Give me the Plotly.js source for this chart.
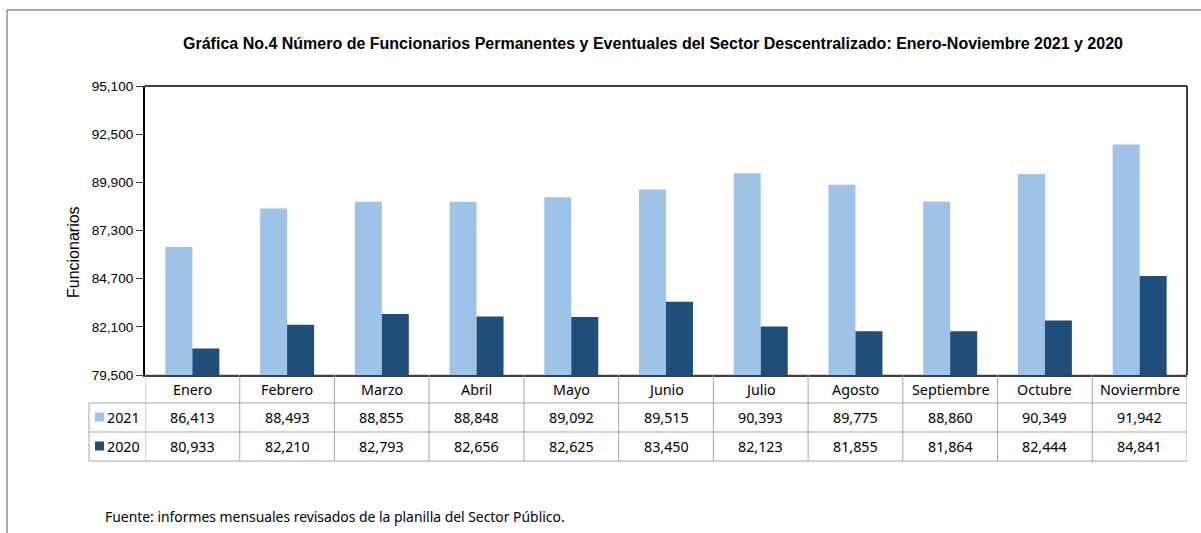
<!DOCTYPE html>
<html>
<head>
<meta charset="utf-8">
<script src="https://cdn.plot.ly/plotly-3.0.1.min.js"></script>
<style>html,body{margin:0;padding:0;background:#fff;}#chart{width:1201px;height:533px;}</style>
</head>
<body>
<div id="chart"></div>
<script>
const months = ["Enero","Febrero","Marzo","Abril","Mayo","Junio","Julio","Agosto","Septiembre","Octubre","Noviermbre"];
const seriesNames = ["2021","2020"];
const values2021 = [86413,88493,88855,88848,89092,89515,90393,89775,88860,90349,91942];
const values2020 = [80933,82210,82793,82656,82625,83450,82123,81855,81864,82444,84841];
const yTicks = [79500,82100,84700,87300,89900,92500,95100];
const titleText = "Gráfica No.4 Número de Funcionarios Permanentes y Eventuales del Sector Descentralizado: Enero-Noviembre 2021 y 2020";
const yTitle = "Funcionarios";
const sourceText = "Fuente: informes mensuales revisados de la planilla del Sector Público.";

const colors = ["#9DC3E6","#1F4E79"];
const W = 1201, H = 533;
const mL = 145, mR = W - 1187, mT = 86, mB = H - 375;
const plotW = W - mL - mR, plotH = H - mT - mB;
const px = p => (p - mL) / plotW;           // pixel x -> paper
const py = p => (H - mB - p) / plotH;       // pixel y -> paper

const fmt = v => v.toLocaleString("en-US");

const traces = [
  {type:"bar", x: months.map((m,i)=>i), y: values2021, name: seriesNames[0], marker:{color:colors[0]}, hoverinfo:"y"},
  {type:"bar", x: months.map((m,i)=>i), y: values2020, name: seriesNames[1], marker:{color:colors[1]}, hoverinfo:"y"}
];

const rowY = [375, 403, 432, 461];
const tableFont = {family:"'Noto Sans', sans-serif", size:14.3, color:"#000"};
const arial = "'Liberation Sans', Arial, sans-serif";
const shapes = [];
const annotations = [];
const lineStyle = {color:"#A6A6A6", width:1};

// outer frame
shapes.push({type:"line", xref:"paper", yref:"paper", x0:px(7), x1:px(7), y0:py(10), y1:py(540), line:{color:"#595959", width:1}});
shapes.push({type:"line", xref:"paper", yref:"paper", x0:px(7), x1:px(1210), y0:py(10), y1:py(10), line:{color:"#595959", width:1}});

// table horizontal lines
shapes.push({type:"line", xref:"paper", yref:"paper", x0:0, x1:1, y0:py(rowY[0]), y1:py(rowY[0]), line:lineStyle, layer:"below"});
for (let r = 1; r < rowY.length; r++) {
  shapes.push({type:"line", xref:"paper", yref:"paper", x0:px(89), x1:1, y0:py(rowY[r]), y1:py(rowY[r]), line:lineStyle});
}
// table vertical lines
months.forEach((m,i) => {
  shapes.push({type:"line", xref:"x", yref:"paper", x0:i-0.5, x1:i-0.5, y0:py(rowY[0]), y1:py(rowY[3]), line:lineStyle});
});
shapes.push({type:"line", xref:"x", yref:"paper", x0:months.length-0.5, x1:months.length-0.5, y0:py(rowY[0]), y1:py(rowY[3]), line:lineStyle});
shapes.push({type:"line", xref:"paper", yref:"paper", x0:px(89), x1:px(89), y0:py(rowY[1]), y1:py(rowY[3]), line:lineStyle});

// table text
months.forEach((m,i) => {
  annotations.push({xref:"x", yref:"paper", x:i, y:py((rowY[0]+rowY[1])/2), text:m, showarrow:false, font:tableFont, xanchor:"center", yanchor:"middle"});
  annotations.push({xref:"x", yref:"paper", x:i, y:py((rowY[1]+rowY[2])/2), text:fmt(values2021[i]), showarrow:false, font:tableFont, xanchor:"center", yanchor:"middle"});
  annotations.push({xref:"x", yref:"paper", x:i, y:py((rowY[2]+rowY[3])/2), text:fmt(values2020[i]), showarrow:false, font:tableFont, xanchor:"center", yanchor:"middle"});
});
// legend keys in table
[0,1].forEach(k => {
  const cy = (rowY[k+1]+rowY[k+2])/2;
  shapes.push({type:"rect", xref:"paper", yref:"paper", x0:px(95), x1:px(104), y0:py(cy-5), y1:py(cy+4), fillcolor:colors[k], line:{width:0}});
  annotations.push({xref:"paper", yref:"paper", x:px(105), y:py(cy), text:seriesNames[k], showarrow:false, font:tableFont, xanchor:"left", yanchor:"middle"});
});

// source
annotations.push({xref:"paper", yref:"paper", x:px(103), y:py(516), text:sourceText, showarrow:false, font:{family:"'Noto Sans', sans-serif", size:13.9, color:"#000"}, xanchor:"left", yanchor:"middle"});

// y title
annotations.push({xref:"paper", yref:"paper", x:px(74), y:py(252), text:yTitle, textangle:-90, showarrow:false, font:{family:arial, size:16, color:"#000"}, xanchor:"center", yanchor:"middle"});

// plot frame top/right
shapes.push({type:"line", xref:"paper", yref:"paper", x0:0, x1:1, y0:1, y1:1, line:{color:"#000", width:1.5}});
shapes.push({type:"line", xref:"paper", yref:"paper", x0:1, x1:1, y0:0, y1:1, line:{color:"#000", width:1.5}});

const layout = {
  width: W, height: H,
  margin: {l:mL, r:mR, t:mT, b:mB, pad:0},
  paper_bgcolor:"#fff", plot_bgcolor:"#fff",
  showlegend:false,
  barmode:"group", bargap:0.43, bargroupgap:0,
  title:{text:"<b>"+titleText+"</b>", xref:"container", x:653/W, xanchor:"center", y:1-43/H, yanchor:"middle",
         font:{family:arial, size:16, color:"#000"}},
  xaxis:{range:[-0.5, months.length-0.5], showticklabels:false, ticks:"", showgrid:false, zeroline:false,
         showline:true, linecolor:"#404040", linewidth:2, fixedrange:true},
  yaxis:{range:[yTicks[0], yTicks[yTicks.length-1]], tickvals:yTicks, ticktext:yTicks.map(fmt),
         ticks:"outside", ticklen:7, tickcolor:"#404040", tickwidth:1, showgrid:false, zeroline:false,
         showline:true, linecolor:"#000", linewidth:2,
         tickfont:{family:arial, size:13.6, color:"#000"}},
  shapes: shapes,
  annotations: annotations
};

Plotly.newPlot("chart", traces, layout, {displayModeBar:false, staticPlot:true});
</script>
</body>
</html>
